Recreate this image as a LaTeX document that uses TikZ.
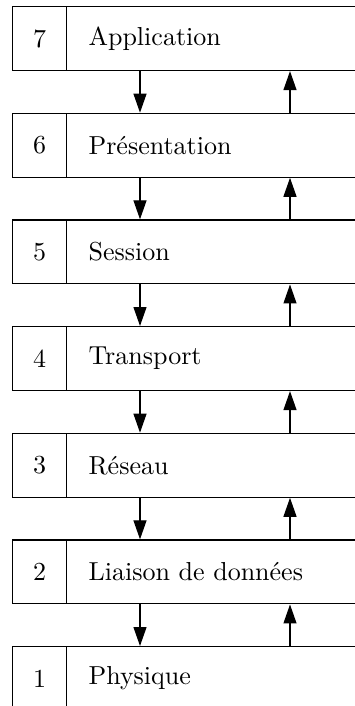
\documentclass[tikz,border=0pt]{standalone}
\usepackage{fontspec}
\usetikzlibrary{arrows.meta}
\tikzset{
  numcell/.style={draw, line width=0.45pt, anchor=north west, inner sep=0pt,
    minimum width=20.77pt, minimum height=24.6pt},
  labcell/.style={draw, line width=0.45pt, anchor=north west, inner xsep=8.46pt, inner ysep=0pt,
    text width=120pt, align=left, minimum height=24.6pt},
  flow/.style={line width=0.45pt, -{Triangle[length=7.3pt,width=5pt]}}
}
\begin{document}
\begin{tikzpicture}[x=0.3846pt,y=-0.3846pt]
\useasboundingbox (0,0) rectangle (355,706);
\clip (0,0) rectangle (355,706);
\coordinate (dx) at (140,0);
\coordinate (ux) at (290,0);
\foreach \k/\t in {7/Application,6/Présentation,5/Session,4/Transport,3/Réseau,2/Liaison de données,1/Physique}{
  \pgfmathsetmacro{\top}{6+106.667*(7-\k)}
  \node[labcell] (l\k) at (66,\top) {\t};
  \node[numcell] (n\k) at (12,\top) {\k};
}
\foreach \a/\b in {7/6,6/5,5/4,4/3,3/2,2/1}{
  \draw[flow] (l\a.south -| dx) -- (l\b.north -| dx);
  \draw[flow] (l\b.north -| ux) -- (l\a.south -| ux);
}
\end{tikzpicture}
\end{document}
